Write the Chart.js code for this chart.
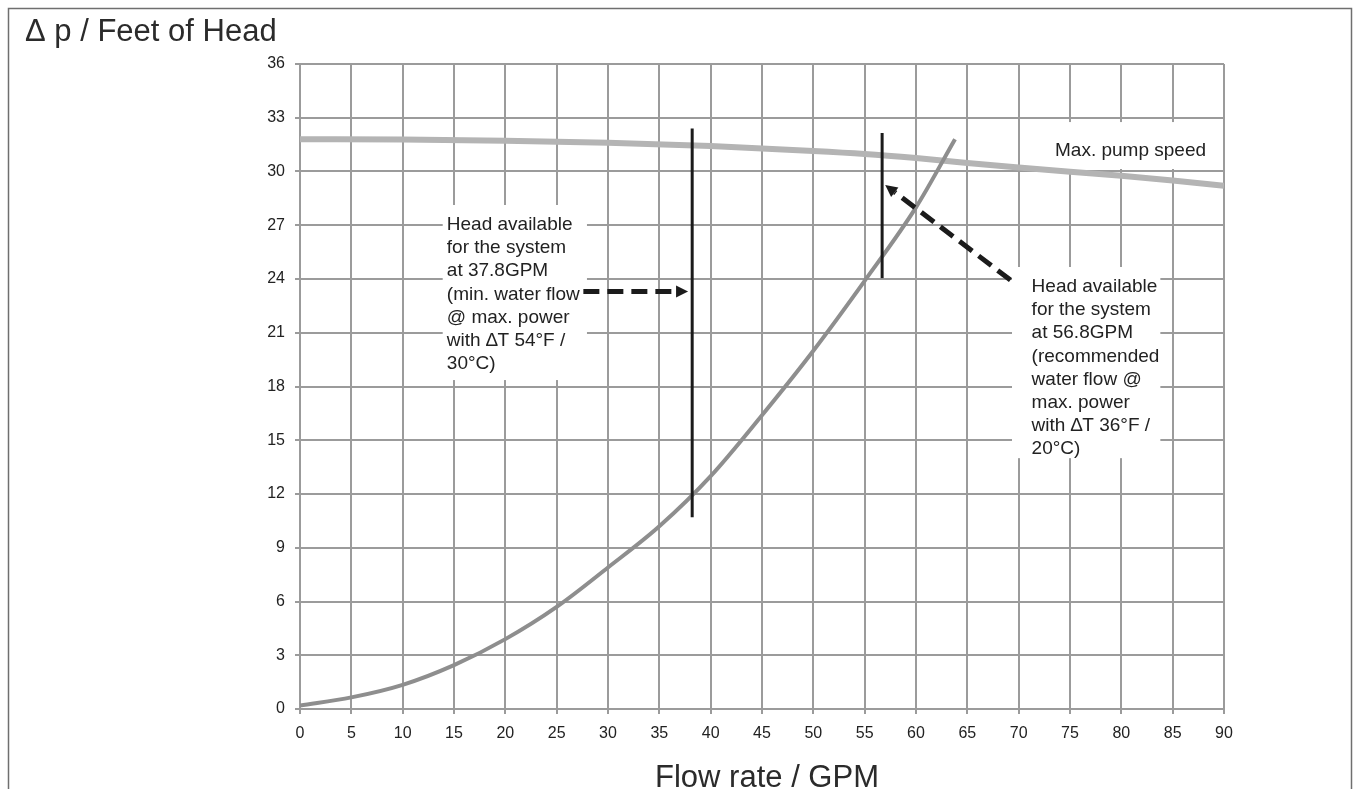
<!DOCTYPE html>
<html>
<head>
<meta charset="utf-8">
<script src="https://cdn.jsdelivr.net/npm/chart.js@4.4.0/dist/chart.umd.min.js"></script>
<style>
  html, body { margin: 0; padding: 0; background: #fff; }
  canvas { display: block; }
</style>
</head>
<body>
<canvas id="chart" width="1354" height="789"></canvas>
<script>
// Max. pump speed curve (GPM -> feet of head)
const pumpFlow = [0, 10, 20, 30, 40, 50, 55, 60, 65, 70, 75, 80, 85, 90];
const pumpHead = [31.8, 31.78, 31.72, 31.6, 31.42, 31.15, 30.98, 30.75, 30.48, 30.22, 29.98, 29.76, 29.5, 29.2];

// System resistance curve
const systemFlow = [0, 5, 10, 15, 20, 25, 30, 35, 40, 45, 50, 55, 60, 63.8];
const systemHead = [0.2, 0.65, 1.35, 2.45, 3.9, 5.7, 7.9, 10.2, 13.0, 16.4, 20.0, 23.9, 28.0, 31.8];

// Vertical "head available" markers
const markerFlow = [38.2, 56.7];
const markerLow = [10.7, 24.05];
const markerHigh = [32.4, 32.15];

// Dashed arrows (tail -> tip)
const arrowTailFlow = [27.6, 69.2];
const arrowTailHead = [23.3, 23.94];
const arrowTipFlow = [37.8, 57.0];
const arrowTipHead = [23.3, 29.25];

// Axis range / ticks
const flowMin = 0, flowMax = 90, flowStep = 5;
const headMin = 0, headMax = 36, headStep = 3;

// Text notes
const leftNote = ['Head available', 'for the system', 'at 37.8GPM', '(min. water flow', '@ max. power', 'with \u2206T 54\u00b0F /', '30\u00b0C)'];
const rightNote = ['Head available', 'for the system', 'at 56.8GPM', '(recommended', 'water flow @', 'max. power', 'with \u2206T 36\u00b0F /', '20\u00b0C)'];
const pumpLabel = ['Max. pump speed'];

// where the notes sit, in data units: box corners and first text line
const noteBoxX0 = [13.9, 69.35, 72.6];
const noteBoxX1 = [27.95, 83.8, 89.2];
const noteBoxY0 = [28.13, 24.67, 32.76];
const noteBoxY1 = [18.36, 14.0, 30.14];
const noteTextX = [14.3, 71.26, 73.54];
const noteTextY = [26.73, 23.27, 30.86];

const FONT = '"Liberation Sans", Arial, Helvetica, sans-serif';
const GRID = '#9b9b9b';

const toPoints = (xs, ys) => xs.map((x, i) => ({ x, y: ys[i] }));

const datasets = [];
markerFlow.forEach((f, i) => {
  datasets.push({
    data: [{ x: f, y: markerLow[i] }, { x: f, y: markerHigh[i] }],
    showLine: true, borderColor: '#1b1b1b', borderWidth: 3, pointRadius: 0
  });
});
datasets.push({
  data: toPoints(systemFlow, systemHead),
  showLine: true, borderColor: '#8e8e8e', borderWidth: 4, pointRadius: 0,
  cubicInterpolationMode: 'monotone'
});
datasets.push({
  data: toPoints(pumpFlow, pumpHead),
  showLine: true, borderColor: '#b4b4b4', borderWidth: 6, pointRadius: 0,
  cubicInterpolationMode: 'monotone'
});

// Frame, axis titles, note boxes and arrows
const decorations = {
  id: 'decorations',
  beforeDraw(chart) {
    const ctx = chart.ctx;
    ctx.save();
    ctx.strokeStyle = '#6f6f6f';
    ctx.lineWidth = 1.5;
    ctx.beginPath();
    ctx.moveTo(8.5, 789);
    ctx.lineTo(8.5, 8.5);
    ctx.lineTo(1351.5, 8.5);
    ctx.lineTo(1351.5, 789);
    ctx.stroke();
    ctx.restore();
  },
  beforeDatasetsDraw(chart) {
    const { ctx, scales: { x, y } } = chart;
    const notes = [leftNote, rightNote, pumpLabel];
    ctx.save();
    notes.forEach((lines, i) => {
      const x0 = x.getPixelForValue(noteBoxX0[i]);
      const x1 = x.getPixelForValue(noteBoxX1[i]);
      const y0 = y.getPixelForValue(noteBoxY0[i]);
      const y1 = y.getPixelForValue(noteBoxY1[i]);
      ctx.fillStyle = '#fff';
      ctx.fillRect(x0, y0, x1 - x0, y1 - y0);
      ctx.fillStyle = '#222';
      ctx.font = '19px ' + FONT;
      ctx.textAlign = 'left';
      ctx.textBaseline = 'alphabetic';
      const tx = x.getPixelForValue(noteTextX[i]);
      const ty = y.getPixelForValue(noteTextY[i]);
      lines.forEach((t, k) => ctx.fillText(t, tx, ty + k * 23.2));
    });
    ctx.restore();
  },
  afterDatasetsDraw(chart) {
    const { ctx, scales: { x, y } } = chart;
    ctx.save();
    arrowTailFlow.forEach((f, i) => {
      const sx = x.getPixelForValue(f), sy = y.getPixelForValue(arrowTailHead[i]);
      const ex = x.getPixelForValue(arrowTipFlow[i]), ey = y.getPixelForValue(arrowTipHead[i]);
      const ang = Math.atan2(ey - sy, ex - sx);
      const headLen = 12, headW = 6;
      const bx = ex - Math.cos(ang) * headLen, by = ey - Math.sin(ang) * headLen;
      ctx.strokeStyle = '#1b1b1b';
      ctx.lineWidth = 5;
      ctx.setLineDash([16, 8]);
      ctx.beginPath();
      ctx.moveTo(sx, sy);
      ctx.lineTo(bx, by);
      ctx.stroke();
      ctx.setLineDash([]);
      ctx.fillStyle = '#1b1b1b';
      ctx.beginPath();
      ctx.moveTo(ex, ey);
      ctx.lineTo(bx + Math.sin(ang) * headW, by - Math.cos(ang) * headW);
      ctx.lineTo(bx - Math.sin(ang) * headW, by + Math.cos(ang) * headW);
      ctx.closePath();
      ctx.fill();
    });
    ctx.restore();
  },
  afterDraw(chart) {
    const { ctx, chartArea } = chart;
    ctx.save();
    ctx.fillStyle = '#2b2b2b';
    ctx.textBaseline = 'alphabetic';
    ctx.font = '31px ' + FONT;
    ctx.textAlign = 'left';
    ctx.fillText('\u0394 p / Feet of Head', 25, 41);
    ctx.textAlign = 'center';
    ctx.fillText('Flow rate / GPM', (chartArea.left + chartArea.right) / 2 + 5, 787);
    ctx.restore();
  }
};

const tickFont = { family: FONT, size: 16 };

new Chart(document.getElementById('chart'), {
  type: 'scatter',
  data: { datasets },
  options: {
    responsive: false,
    animation: false,
    layout: { padding: { top: 64, right: 130, left: 0, bottom: 0 } },
    plugins: { legend: { display: false }, tooltip: { enabled: false } },
    scales: {
      x: {
        type: 'linear', min: flowMin, max: flowMax,
        ticks: { stepSize: flowStep, padding: 10, color: '#222', font: tickFont, maxRotation: 0 },
        grid: { color: GRID, lineWidth: 2, tickLength: 5 },
        border: { color: GRID, width: 2 },
        afterFit: s => { s.height = 80; }
      },
      y: {
        type: 'linear', min: headMin, max: headMax,
        ticks: { stepSize: headStep, padding: 10, color: '#222', font: tickFont },
        grid: { color: GRID, lineWidth: 2, tickLength: 5 },
        border: { color: GRID, width: 2 },
        afterFit: s => { s.width = 300; }
      }
    }
  },
  plugins: [decorations]
});
</script>
</body>
</html>
